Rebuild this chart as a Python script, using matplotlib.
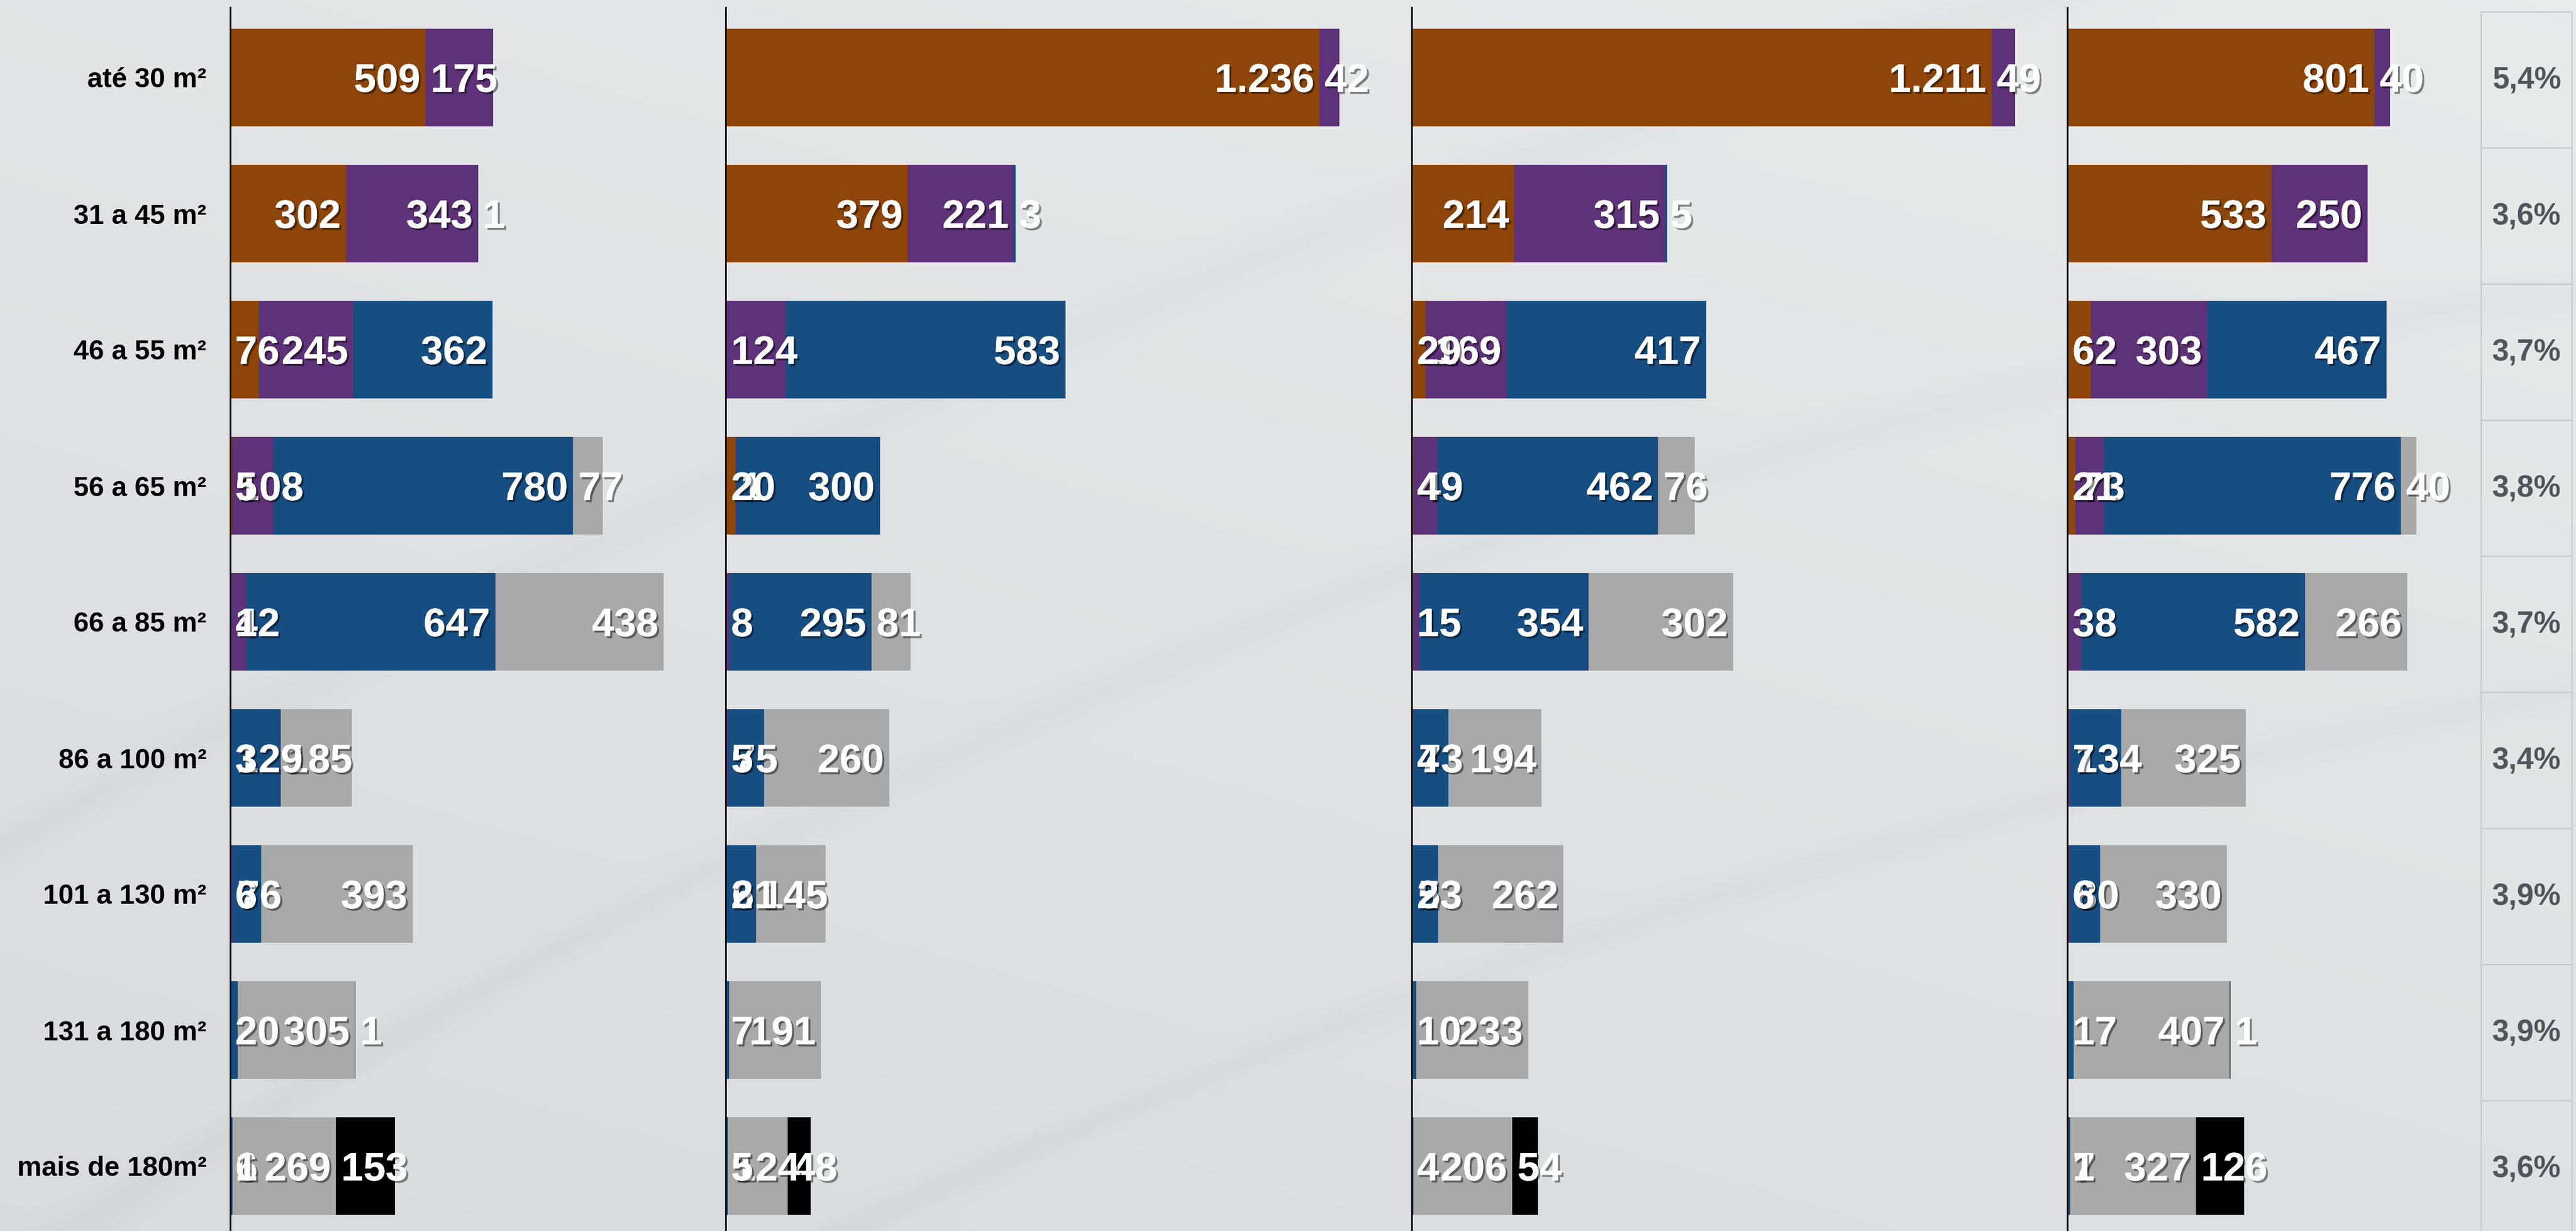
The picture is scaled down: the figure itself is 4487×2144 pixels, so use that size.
import matplotlib
matplotlib.use("Agg")
import matplotlib.pyplot as plt
import numpy as np
from matplotlib import patheffects as pe
from matplotlib.transforms import offset_copy
from matplotlib.patches import Rectangle
from matplotlib.colors import LinearSegmentedColormap

# ---------------- data ----------------
categories = ["até 30 m²", "31 a 45 m²", "46 a 55 m²", "56 a 65 m²", "66 a 85 m²",
              "86 a 100 m²", "101 a 130 m²", "131 a 180 m²", "mais de 180m²"]

# panel 1
p1_orange = [509, 302, 76, 5, 1, 0, 0, 0, 0]
p1_purple = [175, 343, 245, 108, 42, 3, 6, 0, 1]
p1_blue   = [0, 1, 362, 780, 647, 129, 76, 20, 6]
p1_gray   = [0, 0, 0, 77, 438, 185, 393, 305, 269]
p1_black  = [0, 0, 0, 0, 0, 0, 0, 1, 153]

# panel 2
p2_orange = [1236, 379, 0, 20, 0, 0, 0, 0, 0]
p2_purple = [42, 221, 124, 1, 8, 5, 2, 0, 0]
p2_blue   = [0, 3, 583, 300, 295, 75, 61, 7, 5]
p2_gray   = [0, 0, 0, 0, 81, 260, 145, 191, 124]
p2_black  = [0, 0, 0, 0, 0, 0, 0, 0, 48]

# panel 3
p3_orange = [1211, 214, 29, 4, 0, 0, 0, 0, 0]
p3_purple = [49, 315, 169, 49, 15, 4, 2, 0, 0]
p3_blue   = [0, 5, 417, 462, 354, 73, 53, 10, 4]
p3_gray   = [0, 0, 0, 76, 302, 194, 262, 233, 206]
p3_black  = [0, 0, 0, 0, 0, 0, 0, 0, 54]

# panel 4
p4_orange = [801, 533, 62, 21, 0, 0, 0, 0, 0]
p4_purple = [40, 250, 303, 73, 38, 7, 6, 0, 1]
p4_blue   = [0, 0, 467, 776, 582, 134, 80, 17, 7]
p4_gray   = [0, 0, 0, 40, 266, 325, 330, 407, 327]
p4_black  = [0, 0, 0, 0, 0, 0, 0, 1, 126]

percent_labels = ["5,4%", "3,6%", "3,7%", "3,8%", "3,7%", "3,4%", "3,9%", "3,9%", "3,6%"]

panels = [
    [p1_orange, p1_purple, p1_blue, p1_gray, p1_black],
    [p2_orange, p2_purple, p2_blue, p2_gray, p2_black],
    [p3_orange, p3_purple, p3_blue, p3_gray, p3_black],
    [p4_orange, p4_purple, p4_blue, p4_gray, p4_black],
]

# ---------------- style / layout ----------------
colors = ["#8E4509", "#5D3278", "#174E82", "#A8A9A8", "#000000"]
W, H = 4487, 2144
DPI = 100
panel_x0 = [400.5, 1264.3, 2459.0, 3601.0]
panel_x1 = [1264.3, 2459.0, 3601.0, 4322.0]
px_per_unit = [0.6696, 0.8366, 0.8339, 0.6677]
top_px = 13
row0_px = 135
row_step = 237
bar_h = 170 / row_step
pad = 9  # px

fig = plt.figure(figsize=(W / DPI, H / DPI), dpi=DPI)
fig.patch.set_facecolor("#e3e4e5")

# subtle light background with faint diagonal streaks
bg = fig.add_axes([0, 0, 1, 1], zorder=-10)
yy, xx = np.mgrid[0:1:300j, 0:1:600j]
grad = 0.55 + 0.15 * xx - 0.25 * yy
for k, (a, b, w) in enumerate([(0.9, 0.55, 0.012), (1.25, 0.45, 0.01), (0.6, 0.35, 0.015)]):
    curve = a - 0.8 * xx + b * (xx - 0.5) ** 2
    grad -= 0.12 * np.exp(-((yy - curve) ** 2) / (2 * w ** 2))
bg_cmap = LinearSegmentedColormap.from_list("bgc", ["#d6d7d9", "#ebecec"])
bg.imshow(grad, extent=[0, 1, 0, 1], aspect="auto", cmap=bg_cmap,
          vmin=0.2, vmax=0.75, origin="upper")
bg.set_xlim(0, 1)
bg.set_ylim(0, 1)
bg.axis("off")

shadow = [pe.withSimplePatchShadow(offset=(2.5, -2.5), shadow_rgbFace="black", alpha=0.45),
          pe.Normal()]

fig.canvas.draw()
renderer = fig.canvas.get_renderer()

n = len(categories)
ypos = np.arange(n)
ylim_top = -(row0_px - top_px) / row_step
ylim_bot = (H - row0_px) / row_step

for pi, series in enumerate(panels):
    x0, x1 = panel_x0[pi], panel_x1[pi]
    ax = fig.add_axes([x0 / W, 0, (x1 - x0) / W, 1 - top_px / H])
    ax.patch.set_alpha(0)
    ax.set_xlim(0, (x1 - x0) / px_per_unit[pi])
    ax.set_ylim(ylim_bot, ylim_top)
    for s in ["top", "right", "bottom"]:
        ax.spines[s].set_visible(False)
    ax.spines["left"].set_linewidth(2.2)
    ax.spines["left"].set_color("#111111")
    ax.set_xticks([])
    ax.set_yticks([])

    left = np.zeros(n)
    for si, vals in enumerate(series):
        vals = np.array(vals, dtype=float)
        ax.barh(ypos, vals, left=left, height=bar_h, color=colors[si], linewidth=0, zorder=2)
        left = left + vals

    left = np.zeros(n)
    tr_right = offset_copy(ax.transData, fig=fig, x=-pad, y=0, units="dots")
    tr_left = offset_copy(ax.transData, fig=fig, x=pad, y=0, units="dots")
    for si, vals in enumerate(series):
        for i, v in enumerate(vals):
            if v > 0:
                label = f"{v:,}".replace(",", ".")
                start, end = left[i], left[i] + v
                t = ax.text(end, i, label, transform=tr_right, ha="right", va="center_baseline",
                            fontsize=50, fontweight="bold", color="white",
                            family="Liberation Sans", zorder=20 - si, path_effects=shadow)
                tw = t.get_window_extent(renderer).width
                seg_w = v * px_per_unit[pi]
                if tw + pad > seg_w:
                    t.set_position((start, i))
                    t.set_transform(tr_left)
                    t.set_ha("left")
        left = left + np.array(vals, dtype=float)

# category labels
for i, c in enumerate(categories):
    yf = 1 - (row0_px + i * row_step) / H
    fig.text(360 / W, yf, c, ha="right", va="center_baseline", fontsize=34.5,
             fontweight="bold", color="black", family="Liberation Sans")

# percentage column
cell_x0, cell_x1 = 4322, 4480
cell_top = 21
for i, p in enumerate(percent_labels):
    ct = cell_top + i * row_step
    fig.add_artist(Rectangle((cell_x0 / W, 1 - (ct + row_step) / H), (cell_x1 - cell_x0) / W,
                             row_step / H, transform=fig.transFigure, fill=False,
                             edgecolor="#c8cacc", linewidth=1.6))
    yf = 1 - (row0_px + i * row_step) / H
    fig.text(4401 / W, yf, p, ha="center", va="center_baseline", fontsize=38,
             fontweight="bold", color="#50565c", family="Liberation Sans")

fig.savefig("out.png", dpi=DPI, facecolor=fig.get_facecolor())
